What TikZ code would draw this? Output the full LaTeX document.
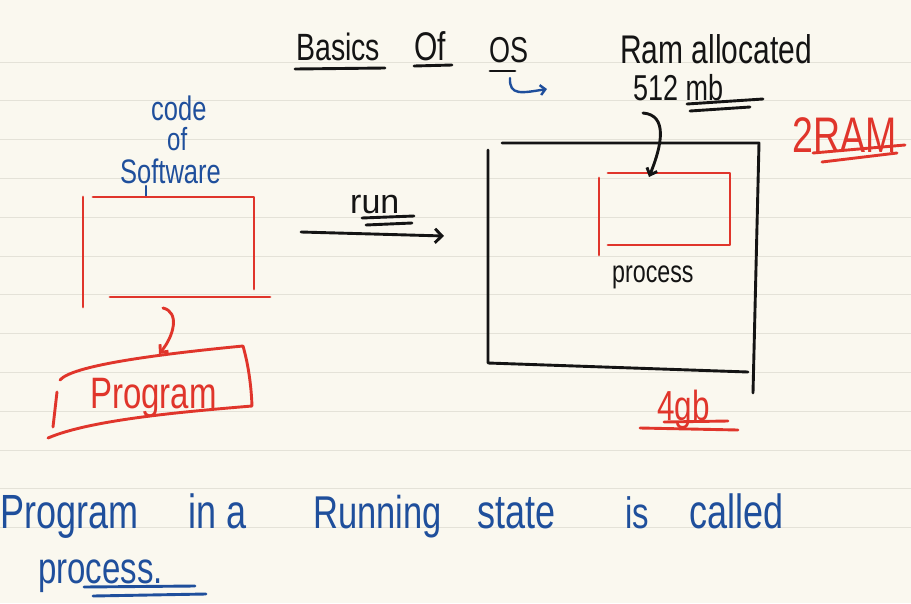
\documentclass[tikz,border=0pt]{standalone}
\usepackage{fontspec}
\setmainfont[FakeStretch=0.75]{Liberation Sans}
\newfontfamily\widefont{Liberation Sans}
\usetikzlibrary{arrows.meta}
\definecolor{paper}{HTML}{FAF8EF}
\definecolor{rulecol}{HTML}{E4E2D8}
\definecolor{ink}{HTML}{141414}
\definecolor{redink}{HTML}{E0352B}
\definecolor{blueink}{HTML}{1F4F9C}
\begin{document}
\begin{tikzpicture}[x=1pt,y=-1pt,
  pen/.style={line width=2.9pt, line cap=round, line join=round},
  thin pen/.style={line width=2.4pt, line cap=round, line join=round},
  txt/.style={inner sep=0pt, anchor=base west},
  fs/.style={font=\fontsize{#1}{#1}\selectfont},
  barb/.style={-{Straight Barb[length=7pt,width=14pt]}}]
\fill[paper] (0,0) rectangle (911,603);
\useasboundingbox (0,0) rectangle (911,603);
% ruled paper
\foreach \k in {0,...,12}{
  \draw[rulecol, line width=1pt] (0,{62+38.8*\k}) -- (911,{62+38.8*\k});
}
% ---------- title ----------
\node[txt, fs=38, text=ink] (basics) at (296,60) {Basics};
\node[txt, fs=40, text=ink] (of) at (414,60) {Of};
\node[txt, fs=36, text=ink] (os) at (489,62) {OS};
\draw[pen, ink] (295,69) -- (385,68);
\draw[pen, ink] (414,66) -- (452,65);
\draw[pen, ink] (490,71) -- (515,71);
% blue hook arrow under OS
\coordinate (hookA) at (510,78);
\coordinate (hookB) at (547,89);
\draw[thin pen, blueink, -{Straight Barb[length=5pt,width=10pt]}] (hookA) .. controls (509,96) and (522,93) .. (hookB);
% ---------- RAM allocated ----------
\node[txt, fs=40, text=ink] (ramalloc) at (620,63) {Ram allocated};
\node[txt, fs=36, text=ink] (mb) at (633,100) {512 mb};
\draw[pen, ink] (687,104) -- (763,99);
\draw[pen, ink] (690,111) -- (750,107);
\node[txt, fs=50, text=redink] (ram) at (792,152) {2RAM};
\draw[pen, redink] (813,153) -- (905,145);
\draw[pen, redink] (822,162) -- (897,153);
% ---------- big memory box ----------
\coordinate (bTL) at (502,143);
\coordinate (bTR) at (759,143);
\coordinate (bRB) at (753,393);
\coordinate (bLT) at (488,150);
\coordinate (bLB) at (488,363);
\coordinate (bBR) at (748,372);
\draw[pen, ink] (bTL) -- (bTR) -- (bRB);
\draw[pen, ink] (bLT) -- (bLB) -- (bBR);
% inner process box
\coordinate (pL1) at (599,178);
\coordinate (pL2) at (599,255);
\coordinate (pTL) at (608,173);
\coordinate (pTR) at (730,173);
\coordinate (pBR) at (730,245);
\coordinate (pBL) at (608,245);
\coordinate (pIn) at (649,177);
\draw[pen, redink] (pL1) -- (pL2);
\draw[pen, redink] (pTL) -- (pTR) -- (pBR) -- (pBL);
\node[txt, fs=31, text=ink] (proc) at (612,282) {process};
% arrow from 512 mb into process box
\coordinate (mbA) at (643,113);
\draw[pen, ink, -{Straight Barb[length=6pt,width=11pt]}] (mbA) .. controls (668,115) and (662,145) .. (pIn);
\node[txt, fs=42, text=redink] (gb) at (657,420) {4gb};
\draw[pen, redink] (664,422) -- (728,421);
\draw[pen, redink] (640,428) -- (738,430);
% ---------- code of software ----------
\node[txt, fs=34, text=blueink] (code) at (151,120) {code};
\node[txt, fs=32, text=blueink] (ofsw) at (167,150) {of};
\node[txt, fs=34, text=blueink] (soft) at (120,183) {Software};
\coordinate (stemA) at (146,186);
\coordinate (stemB) at (146,197);
\draw[thin pen, blueink] (stemA) -- (stemB);
% left program box
\coordinate (lL1) at (83,197);
\coordinate (lL2) at (83,307);
\coordinate (lTL) at (93,197);
\coordinate (lTR) at (254,197);
\coordinate (lRB) at (254,289);
\coordinate (lBL) at (110,297);
\coordinate (lBR) at (270,297);
\draw[pen, redink] (lL1) -- (lL2);
\draw[pen, redink] (lTL) -- (lTR) -- (lRB);
\draw[pen, redink] (lBL) -- (lBR);
% red arrow to program
\coordinate (rA) at (163,308);
\coordinate (rB) at (159,354);
\draw[pen, redink, -{Straight Barb[length=6pt,width=11pt]}] (rA) .. controls (180,312) and (174,336) .. (rB);
% program box (hand drawn)
\coordinate (gTL) at (60,380);
\coordinate (gTR) at (243,346);
\coordinate (gBR) at (252,406);
\coordinate (gBL) at (48,438);
\draw[pen, redink] (gBL) .. controls (90,420) and (180,412) .. (gBR)
  .. controls (251,380) and (247,360) .. (gTR)
  .. controls (150,355) and (72,366) .. (gTL);
\draw[pen, redink] (57,392) -- (53,427);
\node[txt, fs=44, text=redink] (prog) at (90,408) {Program};
% run arrow
\coordinate (runA) at (301,232);
\coordinate (runB) at (444,236);
\draw[pen, ink, barb] (runA) -- (runB);
\node[txt, text=ink, font=\widefont\fontsize{34}{34}\selectfont] (run) at (350,213) {run};
\draw[pen, ink] (362,218) -- (414,216);
\draw[pen, ink] (366,225) -- (412,223);
% ---------- bottom sentence ----------
\node[txt, fs=48, text=blueink] (w1) at (0,528) {Program};
\node[txt, fs=48, text=blueink] (w2) at (188,528) {in a};
\node[txt, fs=46, text=blueink] (w3) at (313,528) {Running};
\node[txt, fs=48, text=blueink] (w4) at (477,528) {state};
\node[txt, fs=44, text=blueink] (w5) at (625,528) {is};
\node[txt, fs=48, text=blueink] (w6) at (689,528) {called};
\node[txt, fs=44, text=blueink] (w7) at (38,583) {process.};
\draw[pen, blueink] (84,587) -- (195,586);
\draw[pen, blueink] (93,596) -- (206,594);
\end{tikzpicture}
\end{document}
